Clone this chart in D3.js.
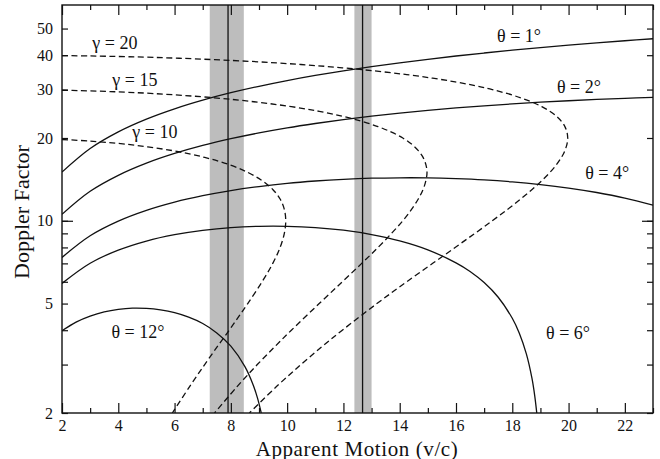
<!DOCTYPE html>
<html><head><meta charset="utf-8">
<script src="https://cdn.jsdelivr.net/npm/d3@7"></script>
<style>
body{margin:0;background:#fff}
text{font-family:"Liberation Serif","Times New Roman",serif;fill:#111}
</style>
</head><body><svg id="c" width="660" height="459"></svg>
<script>
// ---- data ----
const xMajorTicks = [2,4,6,8,10,12,14,16,18,20,22];
const xMinorTicks = [3,5,7,9,11,13,15,17,19,21,23];
const yLabelTicks = [2,5,10,20,30,40,50];
const yDecadeTicks = [10];
const yMinorTicks = [3,4,6,7,8,9];

// constant viewing angle curves: [apparent motion, Doppler factor]
const theta1 = [[2,15.04],[3,18.32],[4,21.06],[5,23.43],[6,25.54],[7,27.46],[8,29.22],[9,30.84],[10,32.35],[11,33.77],[12,35.10],[13,36.35],[14,37.54],[15,38.66],[16,39.73],[17,40.74],[18,41.71],[19,42.63],[20,43.50],[21,44.34],[22,45.14],[23,45.91]];
const theta2 = [[2,10.56],[3,12.80],[4,14.63],[5,16.20],[6,17.57],[7,18.79],[8,19.88],[9,20.87],[10,21.77],[11,22.58],[12,23.33],[13,24.01],[14,24.63],[15,25.20],[16,25.72],[17,26.18],[18,26.61],[19,26.99],[20,27.32],[21,27.62],[22,27.87],[23,28.09]];
const theta4 = [[2,7.36],[3,8.82],[4,9.97],[5,10.91],[6,11.69],[7,12.34],[8,12.88],[9,13.32],[10,13.68],[11,13.95],[12,14.15],[13,14.28],[14,14.33],[15,14.32],[16,14.23],[17,14.08],[18,13.85],[19,13.54],[20,13.15],[21,12.67],[22,12.09],[23,11.39]];
const theta6 = [[2,5.92],[3,7.01],[4,7.82],[5,8.44],[6,8.90],[7,9.23],[8,9.45],[9,9.55],[10,9.55],[11,9.45],[12,9.24],[13,8.91],[14,8.45],[15,7.84],[16,7.03],[16.5,6.54],[17,5.96],[17.5,5.27],[18,4.42],[18.25,3.90],[18.5,3.28],[18.7,2.67],[18.8,2.30],[18.87,2.0]];
const theta12 = [[2,3.98],[2.5,4.28],[3,4.50],[3.5,4.66],[4,4.76],[4.5,4.81],[5,4.80],[5.5,4.74],[6,4.63],[6.5,4.46],[7,4.23],[7.5,3.91],[8,3.50],[8.5,2.95],[8.8,2.52],[8.95,2.26],[9.08,2.0]];

// constant Lorentz factor curves (dashed)
const gamma20 = [[2,39.87],[2.99,39.75],[4.33,39.5],[6.16,39],[8.66,38],[10.49,37],[11.96,36],[13.19,35],[14.25,34],[15.17,33],[15.97,32],[16.67,31],[17.29,30],[18.30,28],[19.05,26],[19.57,24],[19.87,22],[19.97,20],[19.87,18],[19.57,16],[19.05,14],[18.30,12],[17.29,10],[15.97,8],[14.25,6],[13.19,5],[11.96,4],[11.26,3.5],[10.49,3],[9.63,2.5],[8.66,2]];
const gamma15 = [[2,29.83],[2.54,29.75],[3.71,29.5],[5.29,29],[7.42,28],[8.94,27],[10.15,26],[11.14,25],[11.96,24],[12.65,23],[13.23,22],[13.71,21],[14.11,20],[14.42,19],[14.66,18],[14.83,17],[14.93,16],[14.97,15],[14.93,14],[14.83,13],[14.66,12],[14.42,11],[14.11,10],[13.71,9],[13.23,8],[12.65,7],[11.96,6],[11.14,5],[10.15,4],[9.58,3.5],[8.94,3],[8.23,2.5],[7.42,2]];
const gamma10 = [[2,19.75],[2.96,19.5],[4.24,19],[5.92,18],[7.07,17],[7.94,16],[8.60,15],[9.11,14],[9.49,13],[9.75,12],[9.90,11],[9.95,10],[9.90,9],[9.75,8],[9.49,7],[9.11,6],[8.60,5],[8.29,4.5],[7.94,4],[7.53,3.5],[7.07,3],[6.54,2.5],[5.92,2]];

// measured apparent motions: [low, high, value]
const bands = [[7.25,8.46,7.9],[12.39,13.0,12.68]];

// curve labels: [text, x, doppler]
const labels = [
  ["γ = 20", 3.88, 44.3],
  ["γ = 15", 4.59, 32.5],
  ["γ = 10", 5.30, 21.0],
  ["θ = 1°", 18.24, 47.0],
  ["θ = 2°", 20.37, 30.7],
  ["θ = 4°", 21.37, 14.9],
  ["θ = 6°", 19.98, 3.91],
  ["θ = 12°", 4.70, 3.94]
];

// ---- drawing ----
const svg = d3.select("#c");
const L=62, R=653, T=5, B=413;
const x = d3.scaleLinear().domain([2,23]).range([L,R]);
const y = d3.scaleLog().domain([2,60.9]).range([B,T]);

svg.append("defs").append("clipPath").attr("id","clip")
  .append("rect").attr("x",L).attr("y",T).attr("width",R-L).attr("height",B-T);

const plot = svg.append("g").attr("clip-path","url(#clip)");

// bands
plot.selectAll("rect.band").data(bands).enter().append("rect")
  .attr("x",d=>x(d[0])).attr("width",d=>x(d[1])-x(d[0]))
  .attr("y",T).attr("height",B-T).attr("fill","#bdbdbd");
plot.selectAll("line.bl").data(bands).enter().append("line")
  .attr("x1",d=>x(d[2])).attr("x2",d=>x(d[2])).attr("y1",T).attr("y2",B)
  .attr("stroke","#111").attr("stroke-width",1.3);

const line = d3.line().x(d=>x(d[0])).y(d=>y(d[1])).curve(d3.curveCatmullRom.alpha(0.5));

[theta1,theta2,theta4,theta6,theta12].forEach(s=>{
  plot.append("path").datum(s).attr("d",line).attr("fill","none")
    .attr("stroke","#111").attr("stroke-width",1.3);
});
[gamma20,gamma15,gamma10].forEach(s=>{
  plot.append("path").datum(s).attr("d",line).attr("fill","none")
    .attr("stroke","#111").attr("stroke-width",1.3).attr("stroke-dasharray","6,3.5");
});

// axes
function styleAxis(g){ g.select(".domain").remove(); g.selectAll(".tick line").attr("stroke","#111").attr("stroke-width",1.2);
  g.selectAll(".tick text").style("font-family",'"Liberation Serif",serif').style("font-size","16px").attr("fill","#111"); }

svg.append("g").attr("transform",`translate(0,${B})`)
  .call(d3.axisBottom(x).tickValues(xMajorTicks).tickSize(-10).tickPadding(6.5).tickFormat(d3.format("d"))).call(styleAxis);
svg.append("g").attr("transform",`translate(0,${B})`)
  .call(d3.axisBottom(x).tickValues(xMinorTicks).tickSize(-5).tickFormat("")).call(styleAxis);
svg.append("g").attr("transform",`translate(0,${T})`)
  .call(d3.axisTop(x).tickValues(xMajorTicks).tickSize(-10).tickFormat("")).call(styleAxis);
svg.append("g").attr("transform",`translate(0,${T})`)
  .call(d3.axisTop(x).tickValues(xMinorTicks).tickSize(-5).tickFormat("")).call(styleAxis);

svg.append("g").attr("transform",`translate(${L},0)`)
  .call(d3.axisLeft(y).tickValues(yLabelTicks).tickSize(-6).tickPadding(9).tickFormat(d3.format("d"))).call(styleAxis);
svg.append("g").attr("transform",`translate(${L},0)`)
  .call(d3.axisLeft(y).tickValues(yDecadeTicks).tickSize(-11).tickFormat("")).call(styleAxis);
svg.append("g").attr("transform",`translate(${L},0)`)
  .call(d3.axisLeft(y).tickValues(yMinorTicks).tickSize(-6).tickFormat("")).call(styleAxis);
svg.append("g").attr("transform",`translate(${R},0)`)
  .call(d3.axisRight(y).tickValues(yLabelTicks).tickSize(-6).tickFormat("")).call(styleAxis);
svg.append("g").attr("transform",`translate(${R},0)`)
  .call(d3.axisRight(y).tickValues(yDecadeTicks).tickSize(-11).tickFormat("")).call(styleAxis);
svg.append("g").attr("transform",`translate(${R},0)`)
  .call(d3.axisRight(y).tickValues(yMinorTicks).tickSize(-6).tickFormat("")).call(styleAxis);

// frame
svg.append("rect").attr("x",L).attr("y",T).attr("width",R-L).attr("height",B-T)
  .attr("fill","none").attr("stroke","#111").attr("stroke-width",1.4);

// curve labels
svg.selectAll("text.lab").data(labels).enter().append("text")
  .attr("x",d=>x(d[1])).attr("y",d=>y(d[2])).attr("text-anchor","middle")
  .attr("dominant-baseline","central").style("font-size","18px").text(d=>d[0]);

// axis titles
svg.append("text").attr("x",357).attr("y",455.5).attr("text-anchor","middle")
  .style("font-size","21px").style("letter-spacing","0.6px").text("Apparent Motion (v/c)");
svg.append("text").attr("transform","translate(29,212) rotate(-90)").attr("text-anchor","middle")
  .style("font-size","22px").text("Doppler Factor");
</script>
</body></html>
